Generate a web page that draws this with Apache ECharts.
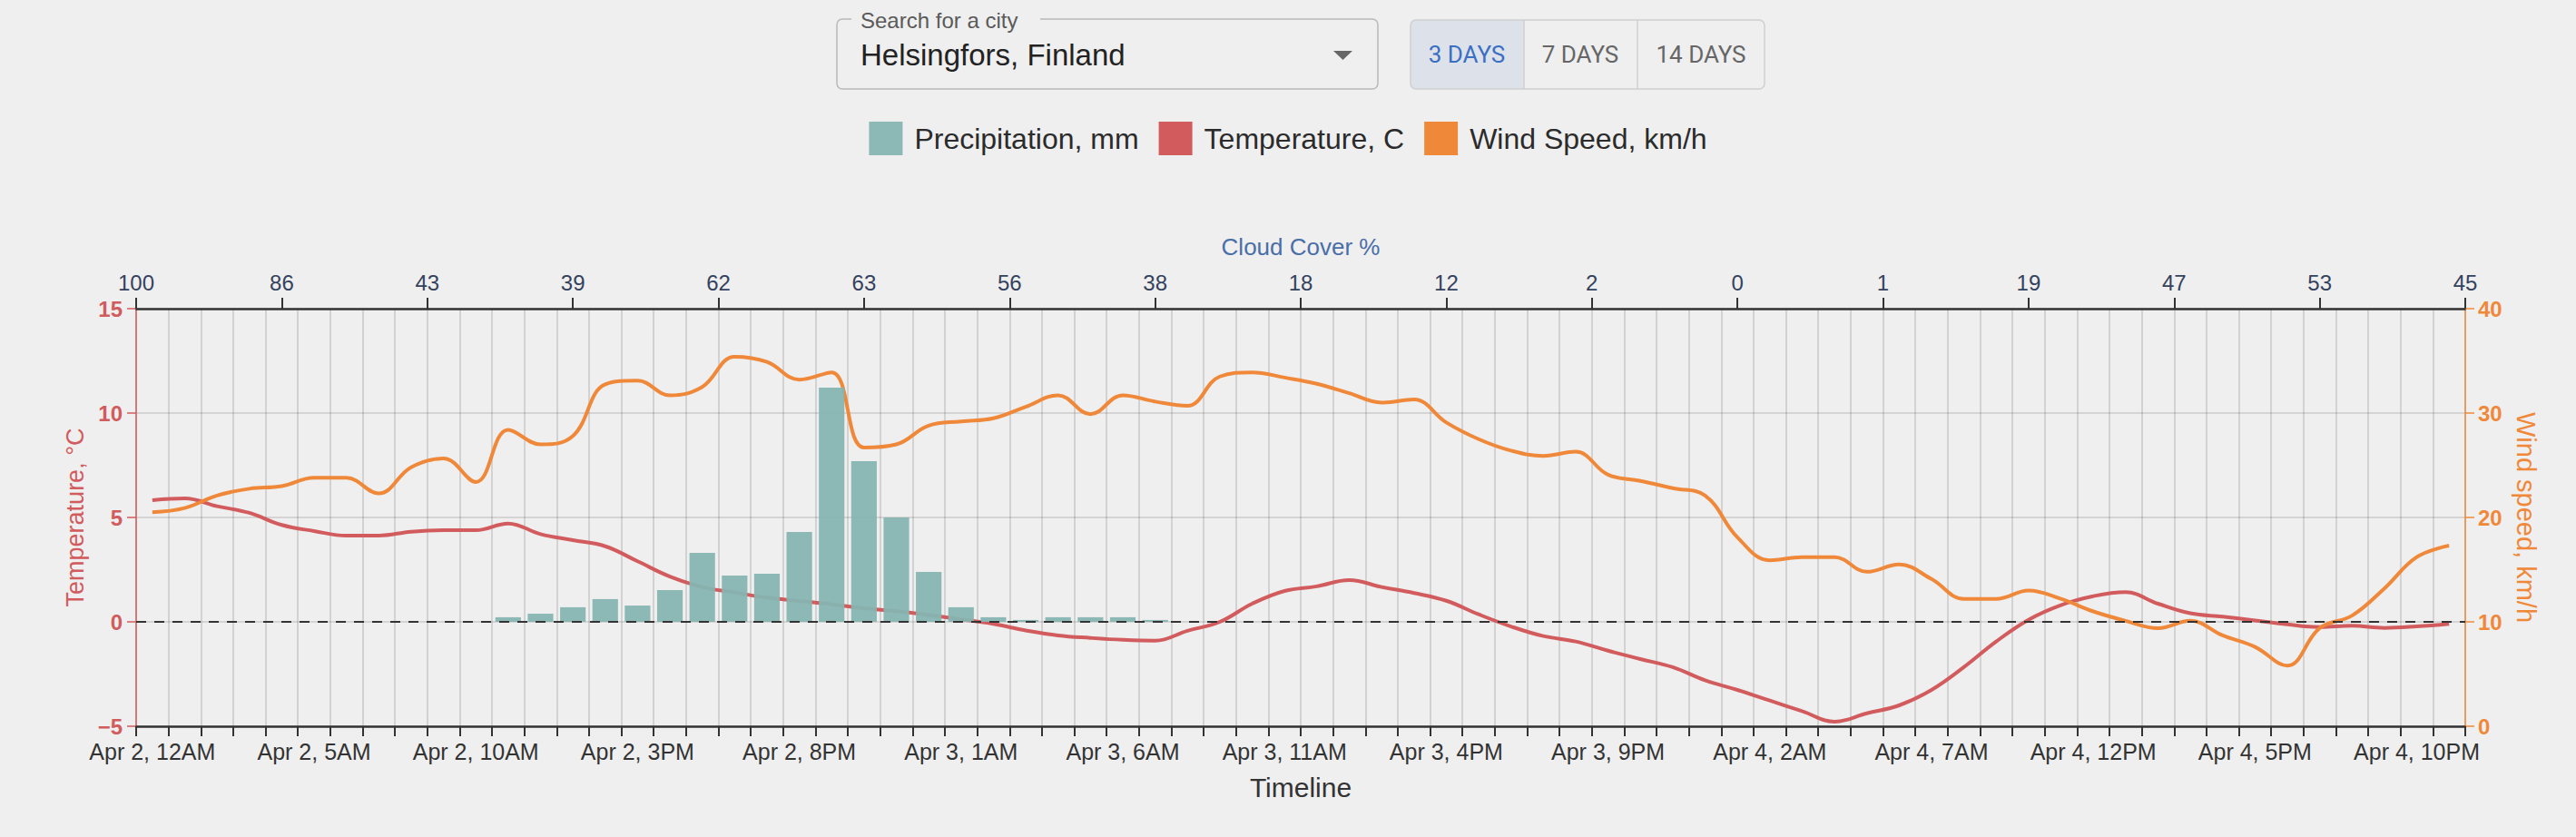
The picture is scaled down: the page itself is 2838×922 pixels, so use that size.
<!DOCTYPE html>
<html>
<head>
<meta charset="utf-8">
<script src="https://cdn.jsdelivr.net/npm/echarts@6/dist/echarts.min.js"></script>
<style>
html,body{margin:0;padding:0;background:#efefef;}
#chart{width:2838px;height:922px;}
</style>
</head>
<body>
<div id="chart"></div>
<script>
const days = ['Apr 2', 'Apr 3', 'Apr 4'];
const hours = ['12AM','1AM','2AM','3AM','4AM','5AM','6AM','7AM','8AM','9AM','10AM','11AM',
               '12PM','1PM','2PM','3PM','4PM','5PM','6PM','7PM','8PM','9PM','10PM','11PM'];
const cloudCover = ['100','86','43','39','62','63','56','38','18','12','2','0','1','19','47','53','45'];

const temperature = [
  5.83, 5.91, 5.54, 5.22, 4.64, 4.35, 4.13, 4.13, 4.32, 4.39, 4.39, 4.71,
  4.20, 3.91, 3.62, 2.90, 2.17, 1.67, 1.41, 1.16, 1.00, 0.84, 0.65, 0.51,
  0.33, 0.12, -0.10, -0.41, -0.65, -0.77, -0.86, -0.90, -0.43, 0.00, 0.87, 1.48,
  1.70, 2.00, 1.67, 1.38, 1.01, 0.36, -0.22, -0.68, -0.94, -1.38, -1.78, -2.17,
  -2.80, -3.26, -3.77, -4.28, -4.78, -4.38, -4.00, -3.26, -2.17, -0.94, 0.10, 0.80,
  1.23, 1.42, 0.87, 0.41, 0.25, 0.07, -0.12, -0.25, -0.19, -0.29, -0.22, -0.10
];
const windSpeed = [
  20.5, 20.9, 22.1, 22.75, 23.0, 23.8, 23.8, 22.3, 24.8, 25.65, 23.4, 28.4,
  27.0, 27.8, 32.75, 33.1, 31.7, 32.5, 35.4, 34.9, 33.2, 33.9, 26.7, 27.0,
  28.8, 29.2, 29.5, 30.6, 31.7, 29.9, 31.7, 31.1, 30.7, 33.5, 33.9, 33.4,
  32.8, 31.9, 31.0, 31.3, 29.1, 27.5, 26.4, 25.9, 26.3, 24.1, 23.5, 22.8,
  22.1, 18.1, 15.9, 16.2, 16.2, 14.8, 15.5, 14.1, 12.2, 12.2, 13.0, 12.2,
  11.0, 10.1, 9.4, 10.1, 8.7, 7.6, 5.8, 9.4, 10.6, 13.2, 16.2, 17.3
];
const precipitation = [
  0, 0, 0, 0, 0, 0, 0, 0, 0, 0, 0, 0.22,
  0.39, 0.70, 1.09, 0.78, 1.52, 3.30, 2.22, 2.30, 4.30, 11.22, 7.70, 5.00,
  2.39, 0.70, 0.22, 0.09, 0.22, 0.22, 0.22, 0.09, 0, 0, 0, 0,
  0, 0, 0, 0, 0, 0, 0, 0, 0, 0, 0, 0,
  0, 0, 0, 0, 0, 0, 0, 0, 0, 0, 0, 0,
  0, 0, 0, 0, 0, 0, 0, 0, 0, 0, 0, 0
];

const categories = days.flatMap(d => hours.map(h => d + ', ' + h));

const FONT = '"Liberation Sans", Arial, Helvetica, sans-serif';
const BG = '#efefef';
const RED = '#d25b5d';
const ORANGE = '#f0883a';
const TEAL = '#86b5b1';
const GRID = 'rgba(0,0,0,0.15)';
const DARK = '#333333';

const chart = echarts.init(document.getElementById('chart'), null, {renderer: 'svg'});

const option = {
  backgroundColor: BG,
  animation: false,
  textStyle: {fontFamily: FONT},
  legend: {
    data: ['Precipitation, mm', 'Temperature, C', 'Wind Speed, km/h'],
    left: 'center',
    top: 129,
    icon: 'rect',
    itemWidth: 37,
    itemHeight: 37,
    itemGap: 22,
    textStyle: {fontSize: 32, color: '#2b2b2b', fontFamily: FONT, padding: [0, 0, 0, 8]},
    selectedMode: false
  },
  grid: {left: 150, right: 122, top: 340, bottom: 122},
  xAxis: [
    {
      type: 'category',
      data: categories,
      position: 'bottom',
      boundaryGap: true,
      name: 'Timeline',
      nameLocation: 'middle',
      nameGap: 52,
      nameTextStyle: {fontSize: 30, color: DARK, fontFamily: FONT},
      axisLine: {show: true, onZero: false, lineStyle: {color: DARK, width: 2.5}},
      axisTick: {show: true, interval: 0, length: 11, lineStyle: {color: DARK, width: 2}},
      axisLabel: {interval: 4, fontSize: 25, color: DARK, margin: 15, fontFamily: FONT},
      splitLine: {show: true, interval: 0, lineStyle: {color: GRID, width: 1.6}}
    },
    {
      type: 'category',
      data: cloudCover,
      position: 'top',
      boundaryGap: false,
      name: 'Cloud Cover %',
      nameLocation: 'middle',
      nameGap: 55,
      nameTextStyle: {fontSize: 26, color: '#4a6ea8', fontFamily: FONT},
      axisLine: {show: true, onZero: false, lineStyle: {color: DARK, width: 2.5}},
      axisTick: {show: true, interval: 0, length: 12, lineStyle: {color: DARK, width: 2}},
      axisLabel: {interval: 0, fontSize: 24, color: '#34425e', margin: 17, fontFamily: FONT},
      splitLine: {show: false}
    }
  ],
  yAxis: [
    {
      type: 'value',
      min: -5, max: 15, interval: 5,
      position: 'left',
      name: 'Temperature, °C',
      nameLocation: 'middle',
      nameGap: 52,
      nameRotate: 90,
      nameTextStyle: {fontSize: 27, color: RED, fontFamily: FONT},
      axisLine: {show: true, onZero: false, lineStyle: {color: RED, width: 1.5}},
      axisTick: {show: true, length: 10, lineStyle: {color: RED, width: 1.5}},
      axisLabel: {fontSize: 24, fontWeight: 'bold', color: RED, margin: 15, fontFamily: FONT,
                  formatter: v => String(v).replace('-', '\u2212')},
      splitLine: {show: true, lineStyle: {color: GRID, width: 1.6}}
    },
    {
      type: 'value',
      min: 0, max: 40, interval: 10,
      position: 'right',
      name: 'Wind speed, km/h',
      nameLocation: 'middle',
      nameGap: 52,
      nameRotate: -90,
      nameTextStyle: {fontSize: 29, color: ORANGE, fontFamily: FONT},
      axisLine: {show: true, onZero: false, lineStyle: {color: ORANGE, width: 1.5}},
      axisTick: {show: true, length: 10, lineStyle: {color: ORANGE, width: 1.5}},
      axisLabel: {fontSize: 24, fontWeight: 'bold', color: ORANGE, margin: 14, fontFamily: FONT},
      splitLine: {show: false}
    }
  ],
  series: [
    {
      name: 'Precipitation, mm',
      type: 'bar',
      xAxisIndex: 0,
      yAxisIndex: 0,
      data: precipitation,
      barCategoryGap: '21%',
      itemStyle: {color: TEAL, opacity: 0.95},
      z: 4
    },
    {
      name: 'Temperature, C',
      type: 'line',
      xAxisIndex: 0,
      yAxisIndex: 0,
      data: temperature,
      smooth: 0.4,
      showSymbol: false,
      symbol: 'none',
      lineStyle: {color: RED, width: 4},
      itemStyle: {color: RED},
      z: 3,
      markLine: {
        silent: true,
        symbol: ['none', 'none'],
        label: {show: false},
        lineStyle: {color: DARK, type: [11, 9], width: 2},
        data: [{yAxis: 0}],
        z: 6
      }
    },
    {
      name: 'Wind Speed, km/h',
      type: 'line',
      xAxisIndex: 0,
      yAxisIndex: 1,
      data: windSpeed,
      smooth: 0.4,
      showSymbol: false,
      symbol: 'none',
      lineStyle: {color: ORANGE, width: 4},
      itemStyle: {color: ORANGE},
      z: 3
    }
  ],
  graphic: [
    {type: 'rect', shape: {x: 922, y: 21, width: 596, height: 77, r: 6},
     style: {fill: 'rgba(0,0,0,0)', stroke: '#b9b9b9', lineWidth: 1.5}},
    {type: 'rect', shape: {x: 938, y: 12, width: 208, height: 18},
     style: {fill: BG, stroke: null}},
    {type: 'text', style: {text: 'Search for a city', x: 948, y: 22, fontSize: 24, fontFamily: FONT,
     fill: '#5a5a5a', textAlign: 'left', textVerticalAlign: 'middle', verticalAlign: 'middle'}},
    {type: 'text', style: {text: 'Helsingfors, Finland', x: 948, y: 60, fontSize: 33, fontFamily: FONT,
     fill: '#222222', textAlign: 'left', textVerticalAlign: 'middle', verticalAlign: 'middle'}},
    {type: 'polygon', shape: {points: [[1469, 56], [1490, 56], [1479.5, 66]]}, style: {fill: '#666666'}},
    {type: 'rect', shape: {x: 1554, y: 22, width: 125, height: 76, r: [6, 0, 0, 6]},
     style: {fill: '#dde2ea', stroke: null}},
    {type: 'rect', shape: {x: 1554, y: 22, width: 390, height: 76, r: 6},
     style: {fill: 'rgba(0,0,0,0)', stroke: '#cfcfcf', lineWidth: 1.5}},
    {type: 'line', shape: {x1: 1679, y1: 22, x2: 1679, y2: 98}, style: {stroke: '#cfcfcf', lineWidth: 1.5}},
    {type: 'line', shape: {x1: 1804, y1: 22, x2: 1804, y2: 98}, style: {stroke: '#cfcfcf', lineWidth: 1.5}},
    {type: 'text', style: {text: '3 DAYS', x: 1616, y: 60, fontSize: 26, fontFamily: 'Roboto, ' + FONT,
     fill: '#3a6fc4', textAlign: 'center', textVerticalAlign: 'middle', verticalAlign: 'middle'}},
    {type: 'text', style: {text: '7 DAYS', x: 1741, y: 60, fontSize: 26, fontFamily: 'Roboto, ' + FONT,
     fill: '#666666', textAlign: 'center', textVerticalAlign: 'middle', verticalAlign: 'middle'}},
    {type: 'text', style: {text: '14 DAYS', x: 1874, y: 60, fontSize: 26, fontFamily: 'Roboto, ' + FONT,
     fill: '#666666', textAlign: 'center', textVerticalAlign: 'middle', verticalAlign: 'middle'}}
  ]
};

chart.setOption(option);
</script>
</body>
</html>
